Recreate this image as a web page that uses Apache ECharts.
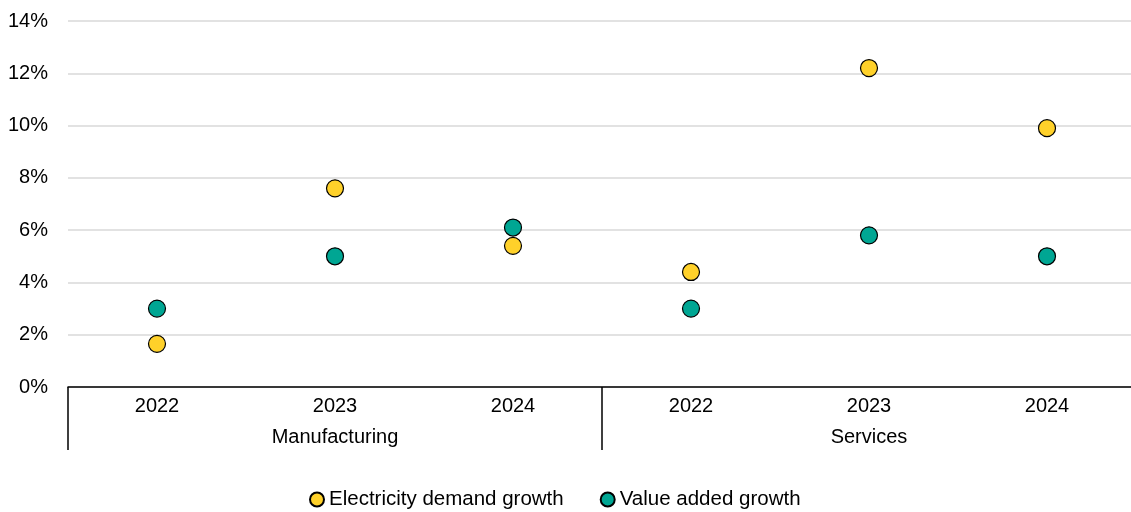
<!DOCTYPE html>
<html>
<head>
<meta charset="utf-8">
<script src="https://cdn.jsdelivr.net/npm/echarts@6/dist/echarts.min.js"></script>
<style>
  html, body { margin: 0; padding: 0; background: #fff; overflow: hidden; }
  /* a few px wider than the window: the plot runs past the right edge */
  #container { width: 1136px; height: 512px; }
</style>
</head>
<body>
<div id="container"></div>
<script>
// data
var years = ['2022', '2023', '2024', '2022', '2023', '2024'];
var groups = ['Manufacturing', 'Services'];
var electricityGrowth = [1.65, 7.6, 5.4, 4.4, 12.2, 9.9];
var valueAddedGrowth = [3.0, 5.0, 6.1, 3.0, 5.8, 5.0];

var font = 'Liberation Sans, Arial, sans-serif';
var myChart = echarts.init(document.getElementById('container'));

myChart.setOption({
	animation: false,
	textStyle: { fontFamily: font },
	grid: { left: 68, right: 0, top: 21, bottom: 125, containLabel: false },
	legend: {
		top: 484,
		left: 304,
		itemWidth: 14,
		itemHeight: 14,
		itemGap: 36,
		textStyle: { fontSize: 20.5, color: '#000', fontFamily: font },
		data: ['Electricity demand growth', 'Value added growth']
	},
	xAxis: [{
		type: 'category',
		data: years,
		axisLine: { lineStyle: { color: '#000', width: 1.5 } },
		axisTick: { show: false },
		axisLabel: { fontSize: 20, color: '#000', margin: 9, fontFamily: font }
	}, {
		type: 'category',
		data: groups,
		position: 'bottom',
		axisLine: { show: false },
		axisTick: { show: true, length: 63, lineStyle: { color: '#000', width: 1.5 } },
		axisLabel: { fontSize: 20, color: '#000', margin: 40, fontFamily: font }
	}],
	yAxis: {
		type: 'value',
		min: 0,
		max: 14,
		interval: 2,
		axisLine: { show: false },
		axisTick: { show: false },
		splitLine: { lineStyle: { color: '#D9D9D9', width: 1.5 } },
		axisLabel: { formatter: '{value}%', fontSize: 20, color: '#000', margin: 20, fontFamily: font }
	},
	series: [{
		name: 'Electricity demand growth',
		type: 'scatter',
		symbolSize: 17,
		itemStyle: { color: '#FFD12A', opacity: 1, borderColor: '#000', borderWidth: 1.2 },
		data: electricityGrowth
	}, {
		name: 'Value added growth',
		type: 'scatter',
		symbolSize: 17,
		itemStyle: { color: '#00A693', opacity: 1, borderColor: '#000', borderWidth: 1.2 },
		data: valueAddedGrowth
	}]
});
</script>
</body>
</html>
